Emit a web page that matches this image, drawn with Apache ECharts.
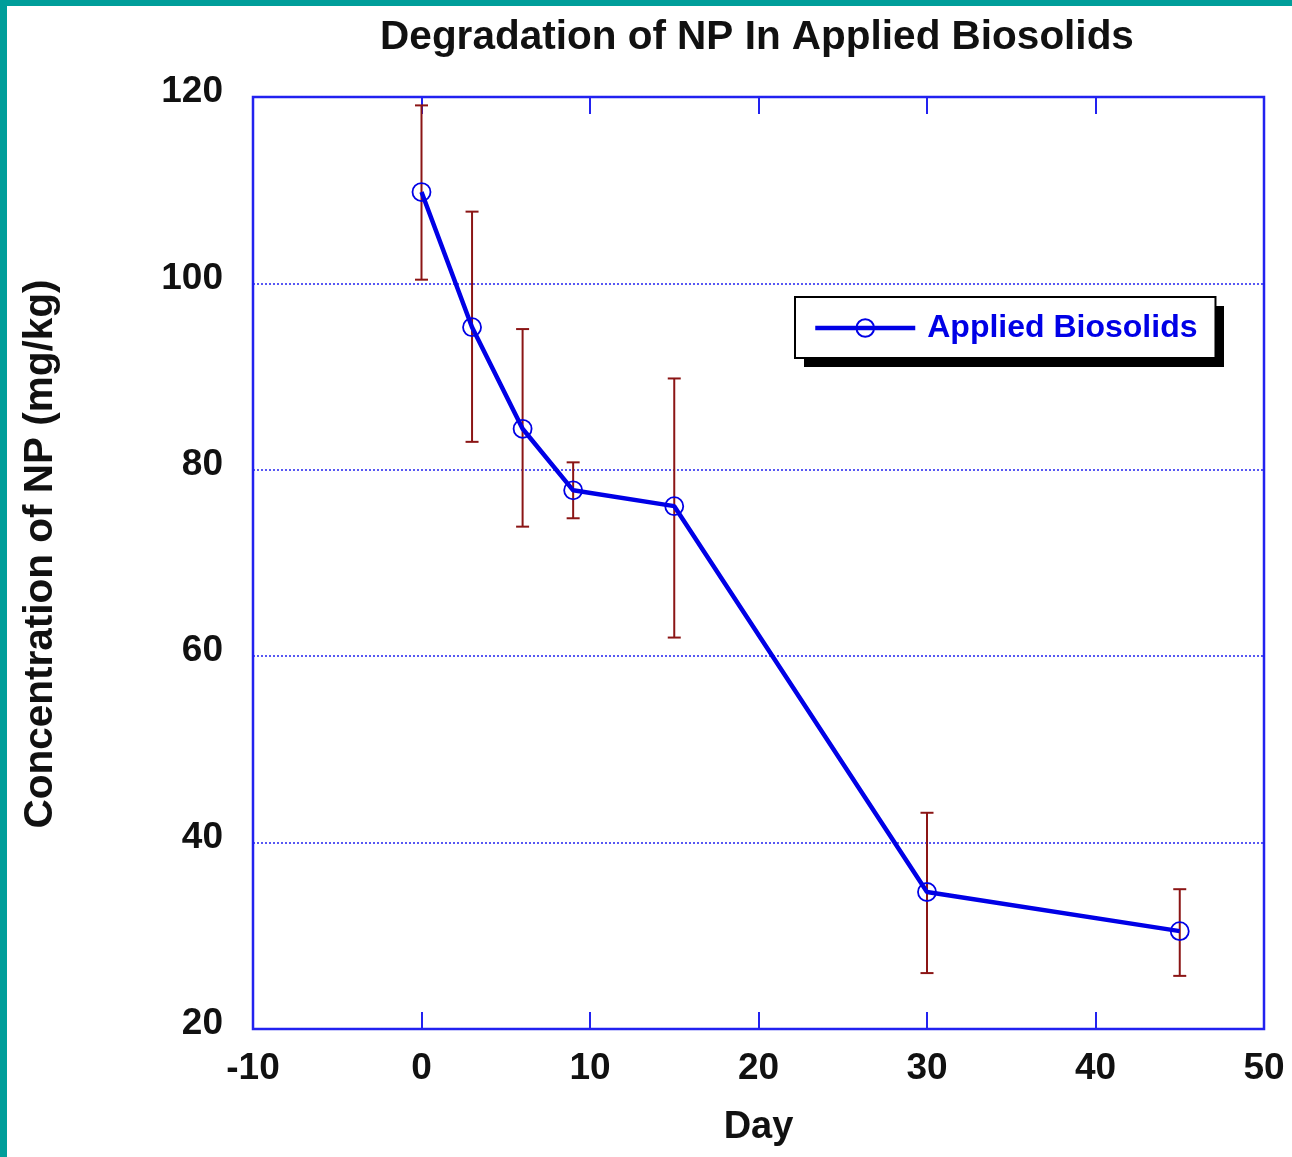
<!DOCTYPE html>
<html>
<head>
<meta charset="utf-8">
<script src="https://cdn.jsdelivr.net/npm/echarts@6/dist/echarts.min.js"></script>
<style>
html,body{margin:0;padding:0;background:#009e9a;}
#wrap{position:absolute;left:0;top:0;width:1292px;height:1157px;}
#frame{position:absolute;left:7px;top:6px;width:1285px;height:1151px;background:#fff;}
#chart{position:absolute;left:0;top:0;width:1292px;height:1157px;}
</style>
</head>
<body>
<div id="wrap"><div id="frame"></div><div id="chart"></div></div>
<script>
// Data
const days = [0, 3, 6, 9, 15, 30, 45];
const concentration = [109.8, 95.3, 84.4, 77.8, 76.1, 34.7, 30.5];
const errLow = [100.4, 83.0, 73.9, 74.8, 62.0, 26.0, 25.7];
const errHigh = [119.1, 107.7, 95.1, 80.8, 89.8, 43.2, 35.0];
const xTicks = [-10, 0, 10, 20, 30, 40, 50];
const yTicks = [20, 40, 60, 80, 100, 120];

const FONT = 'Liberation Sans, Arial, Helvetica, sans-serif';
const BLUE = '#0000e6';
const AXBLUE = '#2222f0';

const lineData = days.map((d, i) => [d, concentration[i]]);
const errData = days.map((d, i) => [d, errLow[i], errHigh[i]]);

const chart = echarts.init(document.getElementById('chart'), null, {renderer: 'canvas'});
chart.setOption({
  backgroundColor: 'transparent',
  animation: false,
  title: {
    text: 'Degradation of NP In Applied Biosolids',
    left: 752, top: 12, textAlign: 'center',
    textStyle: {fontFamily: FONT, fontWeight: 'bold', fontSize: 40.5, color: '#111'}
  },
  graphic: [{
    // drop shadow of the legend box
    type: 'rect', left: 804, top: 306, z: 3, silent: true,
    shape: {width: 420, height: 61},
    style: {fill: '#000'}
  }],
  legend: {
    left: 795, top: 297, z: 5,
    orient: 'horizontal',
    padding: [15, 18, 14, 18],
    itemWidth: 100, itemHeight: 22,
    backgroundColor: '#fff',
    borderColor: '#000', borderWidth: 2, borderRadius: 0,
    lineStyle: {width: 4.5, color: BLUE},
    textStyle: {fontFamily: FONT, fontWeight: 'bold', fontSize: 32, color: BLUE, padding: [0, 0, 0, 7]},
    data: ['Applied Biosolids']
  },
  grid: {
    left: 253, right: 28, top: 97, bottom: 128,
    show: true, borderColor: AXBLUE, borderWidth: 2.5, backgroundColor: 'transparent'
  },
  xAxis: [{
    type: 'value', min: -10, max: 50, interval: 10, position: 'bottom',
    name: 'Day', nameLocation: 'middle', nameGap: 80,
    nameTextStyle: {fontFamily: FONT, fontWeight: 'bold', fontSize: 38, color: '#111'},
    axisLine: {show: false},
    axisTick: {show: true, inside: true, length: 17, lineStyle: {color: AXBLUE, width: 2}},
    axisLabel: {fontFamily: FONT, fontWeight: 'bold', fontSize: 37, color: '#111', margin: 21,
      formatter: v => xTicks.includes(v) ? String(v) : ''},
    splitLine: {show: false}
  }, {
    type: 'value', min: -10, max: 50, interval: 10, position: 'top',
    axisLine: {show: false},
    axisTick: {show: true, inside: true, length: 17, lineStyle: {color: AXBLUE, width: 2}},
    axisLabel: {show: false},
    splitLine: {show: false}
  }],
  yAxis: {
    type: 'value', min: 20, max: 120, interval: 20,
    name: 'Concentration of NP (mg/kg)', nameLocation: 'middle', nameGap: 192, nameRotate: 90,
    nameTextStyle: {fontFamily: FONT, fontWeight: 'bold', fontSize: 40.5, color: '#111', padding: [0, 0, 0, 18]},
    axisLine: {show: false},
    axisTick: {show: false},
    axisLabel: {fontFamily: FONT, fontWeight: 'bold', fontSize: 37, color: '#111', margin: 30,
      verticalAlign: 'bottom', lineHeight: 10,
      formatter: v => yTicks.includes(v) ? String(v) : ''},
    splitLine: {show: true, lineStyle: {color: AXBLUE, width: 1.5, type: [2, 2]}}
  },
  series: [{
    name: 'Error',
    type: 'custom',
    xAxisIndex: 0,
    z: 1,
    encode: {x: 0, y: [1, 2]},
    data: errData,
    renderItem: function (params, api) {
      const x = api.value(0);
      const lo = api.coord([x, api.value(1)]);
      const hi = api.coord([x, api.value(2)]);
      const hw = 6.5;
      const st = {stroke: '#8b1515', lineWidth: 2};
      return {
        type: 'group',
        children: [
          {type: 'line', shape: {x1: lo[0], y1: lo[1], x2: hi[0], y2: hi[1]}, style: st},
          {type: 'line', shape: {x1: lo[0] - hw, y1: lo[1], x2: lo[0] + hw, y2: lo[1]}, style: st},
          {type: 'line', shape: {x1: hi[0] - hw, y1: hi[1], x2: hi[0] + hw, y2: hi[1]}, style: st}
        ]
      };
    }
  }, {
    name: 'Applied Biosolids',
    type: 'line',
    xAxisIndex: 0,
    z: 3,
    data: lineData,
    symbol: 'circle',
    symbolSize: 18,
    lineStyle: {color: BLUE, width: 4.5},
    itemStyle: {color: 'rgba(255,255,255,0)', borderColor: BLUE, borderWidth: 1.8},
    emphasis: {disabled: true}
  }]
});
</script>
</body>
</html>
